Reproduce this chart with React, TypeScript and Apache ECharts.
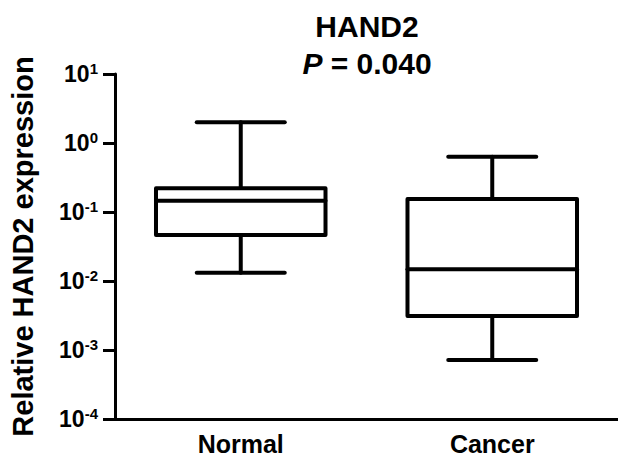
import React, { useEffect, useRef } from "react";
import * as echarts from "echarts";

const categories = ["Normal", "Cancer"];
// [min, Q1, median, Q3, max]
const normalBox = [0.0132, 0.0465, 0.146, 0.22, 2.0];
const cancerBox = [0.000716, 0.00311, 0.0148, 0.154, 0.63];
const boxes = [normalBox, cancerBox];
const yMin = 0.0001;
const yMax = 10;
const titleText = "HAND2";
const pValue = "0.040";
const yName = "Relative HAND2 expression";

const FONT = "'Liberation Sans', Arial, sans-serif";

export default function App() {
  const ref = useRef<HTMLDivElement>(null);
  useEffect(() => {
    if (!ref.current) return;
    const chart = echarts.init(ref.current, undefined, { renderer: "svg" });
    const data = boxes.map((b, i) => [i, ...b]);
    chart.setOption({
      animation: false,
      title: {
        text: `{a|${titleText}}\n{i|P}{a| = ${pValue}}`,
        left: 362,
        top: 3,
        textAlign: "center",
        textStyle: {
          rich: {
            a: { fontFamily: FONT, fontWeight: "bold", fontSize: 30, color: "#000", lineHeight: 37 },
            i: { fontFamily: FONT, fontWeight: "bold", fontStyle: "italic", fontSize: 30, color: "#000", lineHeight: 37 },
          },
        },
      },
      grid: { left: 102, right: 0, top: 74, bottom: 41, containLabel: false },
      xAxis: {
        type: "category",
        data: categories,
        axisLine: { lineStyle: { color: "#000", width: 3 } },
        axisTick: { alignWithLabel: true, length: 10, lineStyle: { color: "#000", width: 3 } },
        axisLabel: { color: "#000", fontFamily: FONT, fontWeight: "bold", fontSize: 25, margin: 12 },
        splitLine: { show: false },
      },
      yAxis: {
        type: "log",
        logBase: 10,
        min: yMin,
        max: yMax,
        splitNumber: 5,
        name: yName,
        nameLocation: "middle",
        nameRotate: 90,
        nameGap: 78,
        nameTextStyle: { color: "#000", fontFamily: FONT, fontWeight: "bold", fontSize: 29 },
        axisLine: { show: true, lineStyle: { color: "#000", width: 3 } },
        axisTick: { show: true, length: 12, lineStyle: { color: "#000", width: 3 } },
        minorTick: { show: false },
        splitLine: { show: false },
        axisLabel: {
          margin: 17,
          formatter: (v: number) => `{b|10}{s|${Math.round(Math.log10(v))}}`,
          rich: {
            b: { fontFamily: FONT, fontWeight: "bold", fontSize: 23, color: "#000", lineHeight: 26 },
            s: { fontFamily: FONT, fontWeight: "bold", fontSize: 15, color: "#000", verticalAlign: "top", lineHeight: 26, padding: [0, 0, 8, 0] },
          },
        },
      },
      series: [
        {
          type: "custom",
          data,
          clip: false,
          renderItem: (params: any, api: any) => {
            const x = api.value(0);
            const pMin = api.coord([x, api.value(1)]);
            const pQ1 = api.coord([x, api.value(2)]);
            const pMed = api.coord([x, api.value(3)]);
            const pQ3 = api.coord([x, api.value(4)]);
            const pMax = api.coord([x, api.value(5)]);
            const band = api.size([1, 0])[0];
            const hw = band * 0.337;
            const cw = band * 0.175;
            const cx = pMed[0];
            const st = { stroke: "#000", lineWidth: 4, fill: "none", lineJoin: "round", lineCap: "round" };
            return {
              type: "group",
              children: [
                { type: "line", shape: { x1: cx, y1: pMax[1], x2: cx, y2: pQ3[1] }, style: st },
                { type: "line", shape: { x1: cx - cw, y1: pMax[1], x2: cx + cw, y2: pMax[1] }, style: st },
                { type: "line", shape: { x1: cx, y1: pMin[1], x2: cx, y2: pQ1[1] }, style: st },
                { type: "line", shape: { x1: cx - cw, y1: pMin[1], x2: cx + cw, y2: pMin[1] }, style: st },
                {
                  type: "rect",
                  shape: { x: cx - hw, y: pQ3[1], width: hw * 2, height: pQ1[1] - pQ3[1] },
                  style: { ...st, fill: "#fff" },
                },
                { type: "line", shape: { x1: cx - hw, y1: pMed[1], x2: cx + hw, y2: pMed[1] }, style: st },
              ],
            };
          },
        },
      ],
    });
    return () => chart.dispose();
  }, []);
  return <div ref={ref} style={{ width: 618, height: 460, position: "absolute", left: 0, top: 0, background: "#fff" }} />;
}
